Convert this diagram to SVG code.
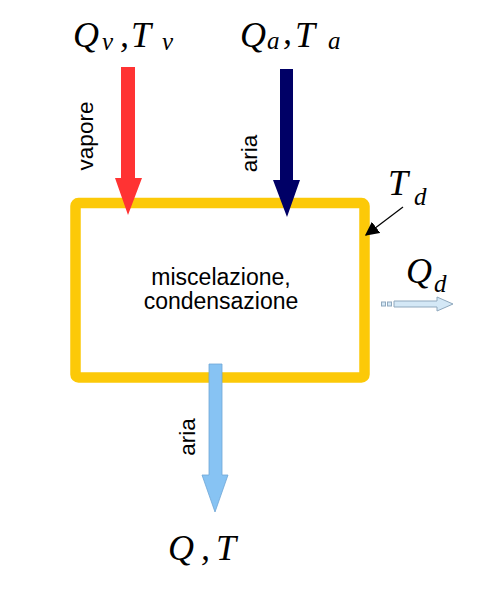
<svg xmlns="http://www.w3.org/2000/svg" width="482" height="593" viewBox="0 0 482 593">
<style>
.m{font-family:"Liberation Serif","Times New Roman",serif;font-style:italic;font-size:36px;fill:#000}
.s{font-family:"Liberation Serif","Times New Roman",serif;font-style:italic;font-size:25px;fill:#000}
.l{font-family:"Liberation Sans",Arial,sans-serif;font-size:22.5px;fill:#000}
.c{font-family:"Liberation Sans",Arial,sans-serif;font-size:23px;fill:#000;text-anchor:middle}
</style>
<defs>
<marker id="ah" viewBox="0 0 10 10" refX="9" refY="5" markerWidth="14" markerHeight="14" markerUnits="userSpaceOnUse" orient="auto">
<path d="M0,0 L10,5 L0,10 z" fill="#000"/>
</marker>
</defs>
<rect width="482" height="593" fill="#fff"/>
<g id="box">
<rect x="75.5" y="203" width="289" height="174.5" rx="3" fill="none" stroke="#fcc908" stroke-width="10.5"/>
<text class="c" x="221" y="285">miscelazione,</text>
<text class="c" x="221" y="309">condensazione</text>
</g>
<g id="connectors">
<polygon id="vapore-arrow" points="121,67 135,67 135,178 142,178 128,215 115,178 121,178" fill="#ff3333"/>
<polygon id="aria-in-arrow" points="280,69 293,69 293,180 300,180 287,217 273,180 280,180" fill="#000066"/>
<polygon id="aria-out-arrow" points="209,364 222,364 222,475 228,475 215,512 202,475 209,475" fill="#87c3f3" stroke="#6fa6d6" stroke-width="0.8"/>
<line id="td-arrow" x1="403" y1="207" x2="366" y2="235" stroke="#000" stroke-width="1.2" marker-end="url(#ah)"/>
<g id="qd-arrow" fill="#d4e8f6" stroke="#8fa8bd" stroke-width="1">
<rect x="381.5" y="302" width="4" height="4"/>
<rect x="387.5" y="302" width="4" height="4"/>
<polygon points="394,301 437,301 437,297 453,304 437,311 437,307 394,307"/>
</g>
</g>
<g id="labels">
<text class="l" transform="translate(93,136) rotate(-90)" text-anchor="middle">vapore</text>
<text class="l" transform="translate(257,153.5) rotate(-90)" text-anchor="middle">aria</text>
<text class="l" transform="translate(195,437) rotate(-90)" text-anchor="middle">aria</text>
</g>
<g id="in-v">
<text class="m" x="73" y="47">Q</text><text class="s" x="102" y="50">v</text><text class="m" x="120" y="47">,</text><text class="m" x="131" y="47">T</text><text class="s" x="162" y="50">v</text>
</g>
<g id="in-a">
<text class="m" x="240" y="47">Q</text><text class="s" x="267" y="49">a</text><text class="m" x="283" y="44">,</text><text class="m" x="295" y="47">T</text><text class="s" x="328" y="49">a</text>
</g>
<g id="out">
<text class="m" x="168" y="560">Q</text><text class="m" x="201" y="560">,</text><text class="m" x="216" y="560">T</text>
</g>
<g id="td">
<text class="m" x="388" y="195">T</text><text class="s" x="414" y="205">d</text>
</g>
<g id="qd">
<text class="m" x="406" y="283">Q</text><text class="s" x="434" y="292">d</text>
</g>
</svg>
